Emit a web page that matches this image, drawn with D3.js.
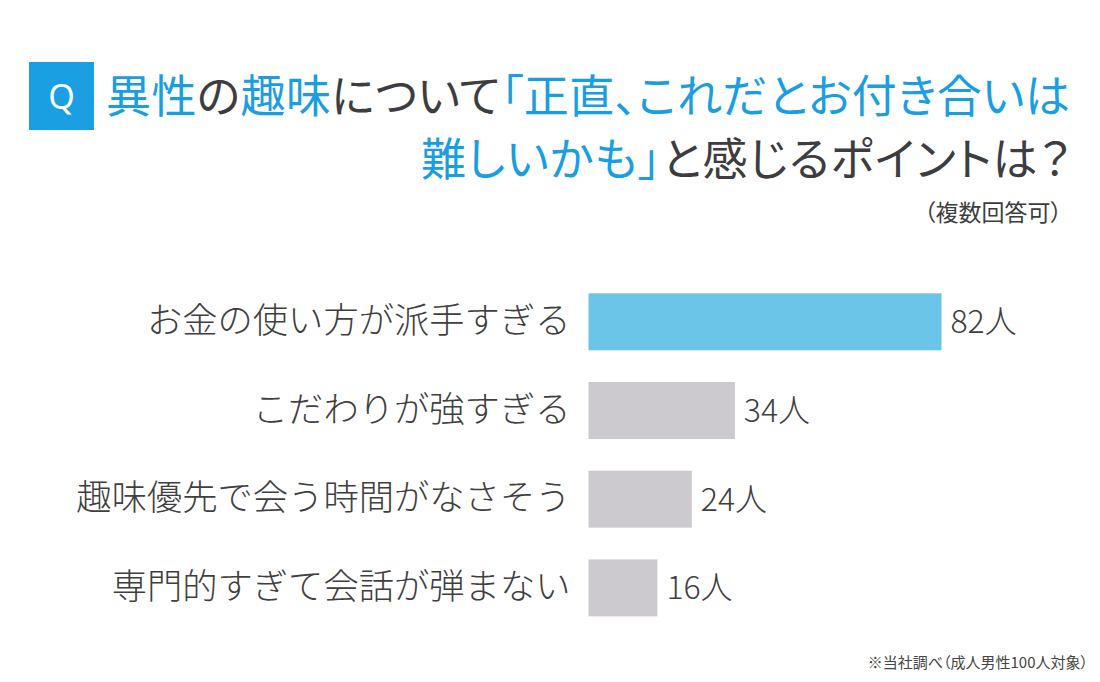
<!DOCTYPE html>
<html><head><meta charset="utf-8">
<script src="https://cdn.jsdelivr.net/npm/d3@7"></script>
<style>html,body{margin:0;padding:0;background:#fff;}svg{display:block;} .palt{font-feature-settings:"palt";}</style>
</head><body>
<svg id="chart" width="1100" height="682"></svg>
<script>
const categories = ["お金の使い方が派手すぎる","こだわりが強すぎる","趣味優先で会う時間がなさそう","専門的すぎて会話が弾まない"];
const values = [82, 34, 24, 16];
const valueLabels = ["82人","34人","24人","16人"];
const highlight = [true, false, false, false];

const svg = d3.select("#chart");
const font = "'Noto Sans CJK JP', 'Noto Sans', sans-serif";
const blue = "#1a9ee2", dark = "#3d3d3f";

svg.append("rect").attr("width",1100).attr("height",682).attr("fill","#fff");

// Q box
svg.append("rect").attr("x",29).attr("y",62).attr("width",65).attr("height",68).attr("fill","#1a9fe3");
svg.append("text").attr("x",61.5).attr("y",109).attr("text-anchor","middle")
  .attr("font-family","'Noto Sans', sans-serif").attr("font-size",34).attr("fill","#fff").text("Q");

// Title
const t1 = svg.append("text").attr("class","palt").attr("x",106).attr("y",113).attr("font-family",font).attr("font-size",45)
  .attr("textLength",964).attr("lengthAdjust","spacing");
[["異性",blue],["の",dark],["趣味",blue],["について",dark],["「正直、これだとお付き合いは",blue]].forEach(([s,c])=>t1.append("tspan").attr("fill",c).text(s));
const t2 = svg.append("text").attr("class","palt").attr("x",421).attr("y",176).attr("font-family",font).attr("font-size",45)
  .attr("textLength",650).attr("lengthAdjust","spacing");
[["難しいかも」",blue],["と感じるポイントは？",dark]].forEach(([s,c])=>t2.append("tspan").attr("fill",c).text(s));
svg.append("text").attr("class","palt").attr("x",1062).attr("y",221).attr("text-anchor","end").attr("font-family",font)
  .attr("font-size",23).attr("fill",dark).text("（複数回答可）");

// Scales
const x = d3.scaleLinear().domain([0,100]).range([588.5,1019]);
const y = d3.scaleBand().domain(categories).range([266.7,643]).paddingInner(0.3574).paddingOuter(0.3);

const g = svg.append("g");
g.selectAll("rect.bar").data(categories).join("rect").attr("class","bar")
  .attr("x",x(0)).attr("y",d=>y(d)).attr("height",y.bandwidth())
  .attr("width",(d,i)=>x(values[i])-x(0))
  .attr("fill",(d,i)=>highlight[i]?"#6bc5e9":"#cdcacf");

const yAxis = d3.axisLeft(y).tickSize(0).tickPadding(18);
const ag = svg.append("g").attr("transform",`translate(${x(0)},0)`).call(yAxis);
ag.select(".domain").remove();
ag.selectAll("text").attr("font-family",font).attr("font-size",35.3).attr("font-weight",300).attr("fill","#3f3f41");

g.selectAll("text.val").data(categories).join("text").attr("class","val")
  .attr("x",(d,i)=>x(values[i])+9).attr("y",d=>y(d)+y.bandwidth()/2)
  .attr("dy","0.36em").attr("font-family",font).attr("font-size",32).attr("font-weight",300).attr("fill","#3f3f41")
  .text((d,i)=>valueLabels[i]);

svg.append("text").attr("class","palt").attr("x",1088).attr("y",668).attr("text-anchor","end").attr("font-family",font)
  .attr("font-size",15).attr("fill","#444").text("※当社調べ（成人男性100人対象）");
</script>
</body></html>
